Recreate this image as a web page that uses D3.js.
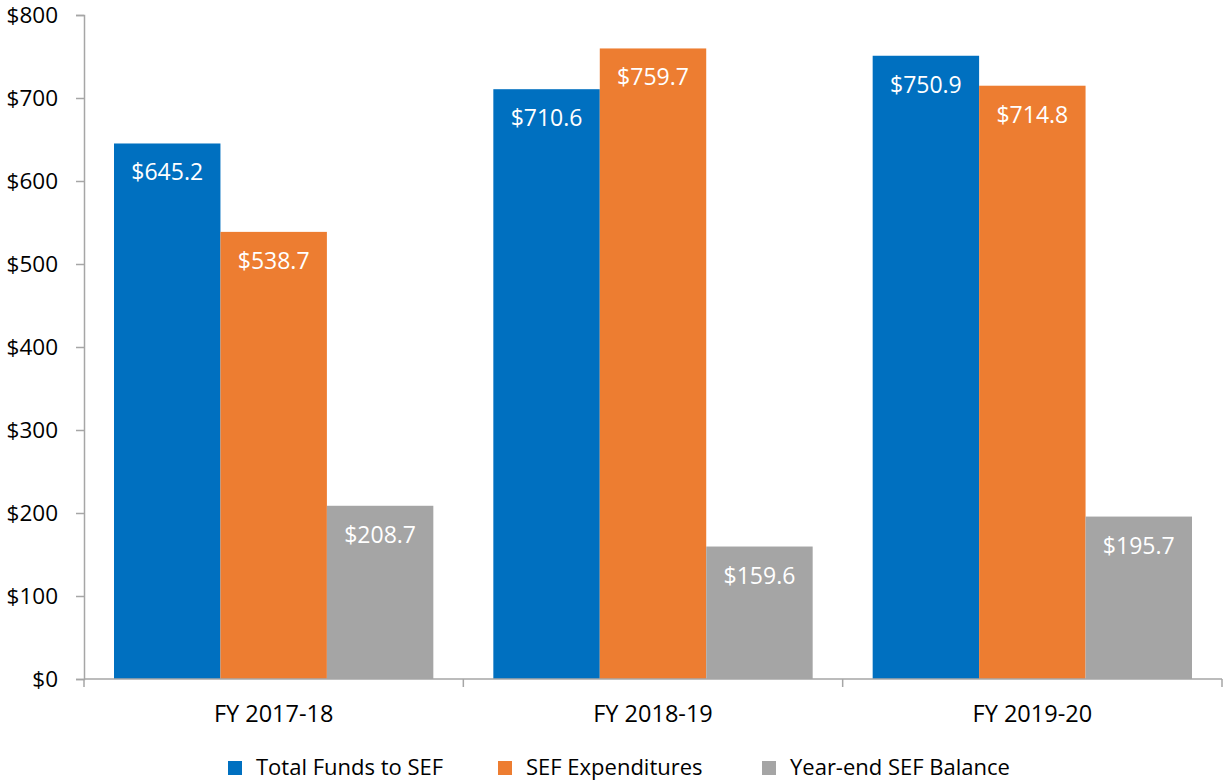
<!DOCTYPE html>
<html>
<head>
<meta charset="utf-8">
<script src="https://cdn.jsdelivr.net/npm/d3@7"></script>
<style>
    body { margin: 0; background: #fff; }
    svg text { font-family: "Open Sans", Lato, sans-serif; }
</style>
</head>
<body>
<svg id="chart" width="1223" height="782"></svg>
<script>
// chart data
var categories = ['FY 2017-18', 'FY 2018-19', 'FY 2019-20'];
var seriesNames = ['Total Funds to SEF', 'SEF Expenditures', 'Year-end SEF Balance'];
var totalFunds = [645.2, 710.6, 750.9];
var expenditures = [538.7, 759.7, 714.8];
var yearEndBalance = [208.7, 159.6, 195.7];
var yTicks = [0, 100, 200, 300, 400, 500, 600, 700, 800];
var colors = ['#0070C0', '#ED7D31', '#A5A5A5'];

var svg = d3.select('#chart');
var margin = {left: 84, right: 1222, top: 15, bottom: 679};
var axisColor = '#A6A6A6';

var seriesValues = [totalFunds, expenditures, yearEndBalance];
var rows = categories.map(function(cat, i) {
    return {
        category: cat,
        values: seriesNames.map(function(name, s) {
            return {series: name, idx: s, value: seriesValues[s][i]};
        })
    };
});

var x0 = d3.scaleBand().domain(categories).range([margin.left, margin.right]).padding(0);
var x1 = d3.scaleBand().domain(seriesNames)
        .range([30, x0.bandwidth() - 30]).padding(0);
var y = d3.scaleLinear().domain([0, 800]).range([margin.bottom, margin.top]);

/** y axis **/
var yAxis = d3.axisLeft(y).tickValues(yTicks).tickSize(8).tickPadding(18)
        .tickFormat(function(d) { return '$' + d; });
var gy = svg.append('g').attr('transform', 'translate(' + margin.left + ',0)').call(yAxis);
gy.select('.domain').attr('stroke', axisColor).attr('stroke-width', 1.5);
gy.selectAll('.tick line').attr('stroke', axisColor).attr('stroke-width', 1.5);
gy.selectAll('.tick text').attr('font-size', '22.5px').attr('fill', '#000');

/** bars **/
var groups = svg.selectAll('.group').data(rows).enter()
        .append('g')
        .attr('class', 'group')
        .attr('transform', function(d) { return 'translate(' + x0(d.category) + ',0)'; });

groups.selectAll('rect').data(function(d) { return d.values; }).enter()
        .append('rect')
        .attr('x', function(d) { return x1(d.series); })
        .attr('y', function(d) { return y(d.value); })
        .attr('width', x1.bandwidth())
        .attr('height', function(d) { return y(0) - y(d.value); })
        .attr('fill', function(d) { return colors[d.idx]; });

groups.selectAll('.bar-label').data(function(d) { return d.values; }).enter()
        .append('text')
        .attr('class', 'bar-label')
        .attr('x', function(d) { return x1(d.series) + x1.bandwidth() / 2; })
        .attr('y', function(d) { return y(d.value) + 37; })
        .attr('text-anchor', 'middle')
        .attr('font-size', '23px')
        .attr('fill', '#fff')
        .text(function(d) { return '$' + d.value.toFixed(1); });

/** x axis **/
var gx = svg.append('g');
gx.append('line')
        .attr('x1', margin.left).attr('x2', margin.right)
        .attr('y1', y(0)).attr('y2', y(0))
        .attr('stroke', axisColor).attr('stroke-width', 1.5);
var boundaries = categories.map(function(c) { return x0(c); }).concat([margin.right]);
gx.selectAll('.xtick').data(boundaries).enter()
        .append('line')
        .attr('x1', function(d) { return d; }).attr('x2', function(d) { return d; })
        .attr('y1', y(0)).attr('y2', y(0) + 8)
        .attr('stroke', axisColor).attr('stroke-width', 1.5);
gx.selectAll('.xlabel').data(categories).enter()
        .append('text')
        .attr('x', function(d) { return x0(d) + x0.bandwidth() / 2; })
        .attr('y', 722)
        .attr('text-anchor', 'middle')
        .attr('font-size', '23.5px')
        .attr('fill', '#000')
        .text(function(d) { return d; });

/** legend **/
var legendX = [228, 498, 762];
var legend = svg.selectAll('.legend').data(seriesNames).enter()
        .append('g')
        .attr('class', 'legend')
        .attr('transform', function(d, i) { return 'translate(' + legendX[i] + ',761)'; });
legend.append('rect')
        .attr('width', 14).attr('height', 14)
        .attr('fill', function(d, i) { return colors[i]; });
legend.append('text')
        .attr('x', 28).attr('y', 14)
        .attr('font-size', '22px')
        .attr('fill', '#000')
        .text(function(d) { return d; });
</script>
</body>
</html>
